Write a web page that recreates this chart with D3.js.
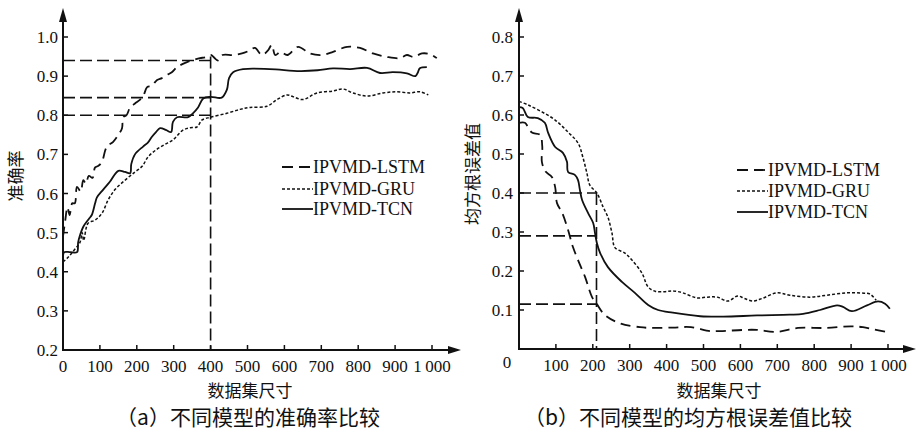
<!DOCTYPE html>
<html>
<head>
<meta charset="utf-8">
<script src="https://cdn.jsdelivr.net/npm/d3@7"></script>
<style>
  html, body { margin: 0; padding: 0; background: #fff; }
  svg { display: block; }
  .num { font-family: "Liberation Serif", "Times New Roman", serif; fill: #111; }
  .cjk { font-family: "Noto Sans CJK SC", sans-serif; fill: #111; }
</style>
</head>
<body>
<svg id="chart" width="917" height="430"></svg>
<script>
// ---------------- DATA ----------------
const xTickValues = [100, 200, 300, 400, 500, 600, 700, 800, 900, 1000];
const accTickValues = [0.2, 0.3, 0.4, 0.5, 0.6, 0.7, 0.8, 0.9, 1.0];
const rmseTickValues = [0.1, 0.2, 0.3, 0.4, 0.5, 0.6, 0.7, 0.8];
const seriesNames = ["IPVMD-LSTM", "IPVMD-GRU", "IPVMD-TCN"];

// (a) accuracy  [dataset size, accuracy]
const accLSTM = [[0,0.49],[6,0.53],[12,0.565],[18,0.545],[25,0.575],[32,0.575],[38,0.617],[48,0.605],[55,0.634],[62,0.625],[70,0.645],[80,0.64],[87,0.667],[95,0.67],[105,0.68],[119,0.72],[136,0.732],[150,0.75],[160,0.767],[163,0.795],[172,0.80],[182,0.82],[195,0.83],[209,0.84],[218,0.85],[228,0.872],[240,0.875],[255,0.89],[268,0.895],[282,0.903],[295,0.91],[309,0.923],[322,0.93],[336,0.936],[350,0.94],[371,0.946],[385,0.948],[401,0.954],[408,0.949],[420,0.94],[432,0.954],[461,0.954],[485,0.958],[505,0.965],[520,0.972],[539,0.954],[555,0.965],[566,0.98],[575,0.954],[590,0.962],[608,0.954],[637,0.975],[669,0.958],[702,0.954],[732,0.962],[770,0.975],[805,0.972],[840,0.958],[878,0.949],[913,0.946],[932,0.954],[950,0.949],[973,0.958],[995,0.956],[1013,0.946]];
const accGRU = [[0,0.425],[14,0.437],[30,0.455],[46,0.475],[52,0.50],[56,0.48],[68,0.524],[87,0.532],[106,0.55],[122,0.583],[141,0.61],[168,0.634],[195,0.655],[215,0.67],[230,0.693],[250,0.71],[275,0.725],[298,0.737],[325,0.762],[345,0.768],[363,0.77],[377,0.788],[400,0.795],[444,0.805],[480,0.815],[507,0.82],[553,0.823],[580,0.84],[607,0.852],[625,0.847],[650,0.84],[688,0.857],[732,0.862],[759,0.867],[786,0.857],[824,0.849],[867,0.857],[905,0.86],[940,0.857],[967,0.86],[990,0.852]];
const accTCN = [[0,0.437],[3,0.45],[20,0.45],[38,0.45],[41,0.475],[45,0.49],[55,0.515],[70,0.535],[78,0.545],[87,0.575],[92,0.59],[109,0.61],[127,0.63],[150,0.658],[168,0.655],[182,0.652],[185,0.675],[195,0.70],[217,0.72],[230,0.73],[241,0.745],[252,0.757],[263,0.767],[280,0.762],[293,0.757],[298,0.783],[309,0.795],[339,0.795],[352,0.805],[366,0.82],[380,0.843],[400,0.847],[430,0.845],[444,0.865],[450,0.895],[461,0.91],[488,0.918],[560,0.918],[642,0.913],[690,0.915],[732,0.92],[778,0.918],[824,0.921],[859,0.908],[894,0.91],[932,0.907],[955,0.90],[962,0.91],[967,0.92],[986,0.923]];

// (b) RMSE  [dataset size, rmse]
const rmseLSTM = [[0,0.58],[16,0.58],[24,0.57],[35,0.555],[57,0.549],[63,0.52],[62,0.48],[72,0.455],[89,0.441],[98,0.415],[103,0.374],[117,0.349],[133,0.305],[146,0.262],[160,0.228],[179,0.185],[198,0.133],[211,0.115],[233,0.087],[276,0.065],[328,0.056],[358,0.054],[417,0.055],[466,0.056],[518,0.046],[545,0.046],[612,0.049],[645,0.049],[699,0.044],[756,0.054],[829,0.054],[900,0.058],[932,0.056],[959,0.051],[995,0.044]];
const rmseGRU = [[0,0.635],[24,0.626],[62,0.608],[98,0.587],[133,0.556],[160,0.528],[173,0.492],[184,0.451],[192,0.42],[211,0.40],[228,0.364],[241,0.338],[252,0.297],[260,0.26],[287,0.246],[306,0.228],[333,0.195],[350,0.159],[369,0.148],[396,0.147],[417,0.149],[444,0.144],[482,0.131],[510,0.133],[537,0.133],[566,0.123],[593,0.136],[610,0.13],[634,0.123],[660,0.13],[699,0.144],[734,0.138],[789,0.133],[835,0.138],[889,0.144],[935,0.143],[951,0.141],[968,0.125]];
const rmseTCN = [[0,0.62],[10,0.618],[24,0.595],[51,0.592],[70,0.58],[79,0.554],[98,0.518],[119,0.503],[130,0.48],[133,0.454],[152,0.446],[160,0.433],[165,0.408],[171,0.382],[187,0.349],[201,0.323],[206,0.297],[211,0.272],[220,0.246],[241,0.21],[279,0.172],[314,0.144],[350,0.113],[377,0.1],[417,0.093],[491,0.084],[553,0.083],[645,0.086],[734,0.088],[770,0.09],[816,0.1],[862,0.112],[878,0.108],[902,0.097],[943,0.112],[973,0.122],[992,0.116],[1005,0.103]];

// reference (guide) lines
const accGuideY = [0.94, 0.845, 0.80];
const accGuideX = 400;
const accGuideTop = 0.95;
const rmseGuideY = [0.40, 0.29, 0.115];
const rmseGuideX = 210;
const rmseGuideTop = 0.40;

// ---------------- DRAW ----------------
const svg = d3.select("#chart");
svg.append("rect").attr("width", 917).attr("height", 430).attr("fill", "#fff");

const styles = [
  { dash: "10,6", width: 1.8 },
  { dash: "3,2", width: 1.5 },
  { dash: null, width: 1.8 }
];

function fmtX(d) { return d === 1000 ? "1\u2009000" : String(d); }

function panel(cfg) {
  const g = svg.append("g");
  const x = d3.scaleLinear().domain([0, 1000]).range([cfg.x0, cfg.x0 + 369]);
  const y = d3.scaleLinear().domain(cfg.yDomain).range([cfg.yBottom, 37]);

  // guide lines
  cfg.guideY.forEach(v => {
    g.append("line")
      .attr("x1", x(0)).attr("x2", x(cfg.guideX))
      .attr("y1", y(v)).attr("y2", y(v))
      .attr("stroke", "#111").attr("stroke-width", 1.6)
      .attr("stroke-dasharray", "12,5");
  });
  g.append("line")
    .attr("x1", x(cfg.guideX)).attr("x2", x(cfg.guideX))
    .attr("y1", y(cfg.guideTop)).attr("y2", y(cfg.yDomain[0]))
    .attr("stroke", "#111").attr("stroke-width", 1.6)
    .attr("stroke-dasharray", "12,5");

  // series
  const line = d3.line()
    .x(d => x(d[0])).y(d => y(d[1]))
    .curve(d3.curveCatmullRom.alpha(0.5));
  cfg.series.forEach((s, i) => {
    g.append("path")
      .datum(s)
      .attr("d", line)
      .attr("fill", "none")
      .attr("stroke", "#111")
      .attr("stroke-width", styles[i].width)
      .attr("stroke-dasharray", styles[i].dash)
      .attr("stroke-linejoin", "round");
  });

  // axes
  const xAxisY = y(cfg.yDomain[0]);
  g.append("line").attr("x1", x(0)).attr("x2", cfg.xArrow - 10)
    .attr("y1", xAxisY).attr("y2", xAxisY)
    .attr("stroke", "#111").attr("stroke-width", 2);
  g.append("path")
    .attr("d", `M${cfg.xArrow},${xAxisY} L${cfg.xArrow - 13},${xAxisY - 4} L${cfg.xArrow - 13},${xAxisY + 4} Z`)
    .attr("fill", "#111");
  g.append("line").attr("x1", x(0)).attr("x2", x(0))
    .attr("y1", xAxisY + 1).attr("y2", 18)
    .attr("stroke", "#111").attr("stroke-width", 2);
  g.append("path")
    .attr("d", `M${x(0)},8 L${x(0) - 4},22 L${x(0) + 4},22 Z`)
    .attr("fill", "#111");

  // x ticks
  xTickValues.forEach(v => {
    g.append("line").attr("x1", x(v)).attr("x2", x(v))
      .attr("y1", xAxisY).attr("y2", xAxisY - 5)
      .attr("stroke", "#111").attr("stroke-width", 1.5);
    g.append("text").attr("class", "num")
      .attr("x", x(v)).attr("y", xAxisY + 22)
      .attr("text-anchor", "middle").attr("font-size", 17)
      .text(fmtX(v));
  });
  // y ticks
  cfg.yTicks.forEach(v => {
    if (v !== cfg.yDomain[0]) {
      g.append("line").attr("x1", x(0)).attr("x2", x(0) + 5)
        .attr("y1", y(v)).attr("y2", y(v))
        .attr("stroke", "#111").attr("stroke-width", 1.5);
    }
    g.append("text").attr("class", "num")
      .attr("x", x(0) - cfg.yLabelGap).attr("y", y(v) + 6)
      .attr("text-anchor", "end").attr("font-size", 17)
      .text(v.toFixed(1));
  });
  if (cfg.zeroLabel) {
    g.append("text").attr("class", "num")
      .attr("x", x(0) - 12).attr("y", xAxisY + 19)
      .attr("text-anchor", "middle").attr("font-size", 17)
      .text("0");
  } else {
    g.append("text").attr("class", "num")
      .attr("x", x(0)).attr("y", xAxisY + 22)
      .attr("text-anchor", "middle").attr("font-size", 17)
      .text("0");
  }

  // axis titles
  g.append("text").attr("class", "cjk")
    .attr("x", cfg.xTitleX).attr("y", 397)
    .attr("text-anchor", "middle").attr("font-size", 17)
    .text("数据集尺寸");
  g.append("text").attr("class", "cjk")
    .attr("transform", `translate(${cfg.yTitleX},${cfg.yTitleY}) rotate(-90)`)
    .attr("text-anchor", "middle").attr("font-size", 17)
    .text(cfg.yTitle);
  g.append("text").attr("class", "cjk")
    .attr("x", cfg.captionX).attr("y", 425)
    .attr("text-anchor", "middle").attr("font-size", 21)
    .text(cfg.caption);

  // legend
  seriesNames.forEach((name, i) => {
    const ly = cfg.legendY[i];
    g.append("line")
      .attr("x1", cfg.legendX).attr("x2", cfg.legendX + 31)
      .attr("y1", ly).attr("y2", ly)
      .attr("stroke", "#111").attr("stroke-width", styles[i].width)
      .attr("stroke-dasharray", i === 0 ? "11,6" : styles[i].dash);
    g.append("text").attr("class", "num")
      .attr("x", cfg.legendX + 31).attr("y", ly + 6)
      .attr("font-size", 18)
      .text(name);
  });
}

panel({
  x0: 63, yDomain: [0.2, 1.0], yBottom: 350, yTicks: accTickValues,
  series: [accLSTM, accGRU, accTCN],
  guideY: accGuideY, guideX: accGuideX, guideTop: accGuideTop,
  xArrow: 461, yLabelGap: 5, zeroLabel: false,
  xTitleX: 250, yTitleX: 22, yTitleY: 176, yTitle: "准确率",
  captionX: 248, caption: "（a）不同模型的准确率比较",
  legendX: 282, legendY: [167, 189, 209]
});

panel({
  x0: 519, yDomain: [0, 0.8], yBottom: 349, yTicks: rmseTickValues,
  series: [rmseLSTM, rmseGRU, rmseTCN],
  guideY: rmseGuideY, guideX: rmseGuideX, guideTop: rmseGuideTop,
  xArrow: 916, yLabelGap: 6, zeroLabel: true,
  xTitleX: 719, yTitleX: 479, yTitleY: 174, yTitle: "均方根误差值",
  captionX: 688, caption: "（b）不同模型的均方根误差值比较",
  legendX: 737, legendY: [170, 191, 212]
});
</script>
</body>
</html>
